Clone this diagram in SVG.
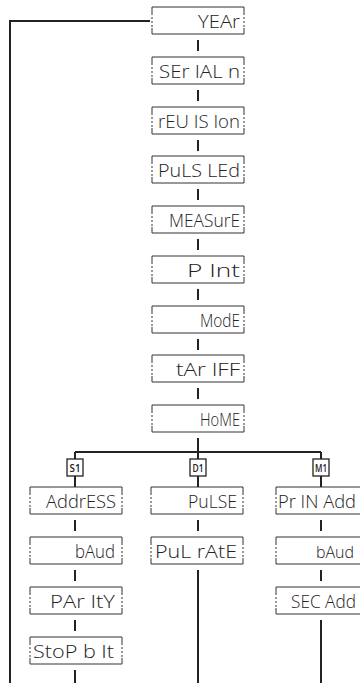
<svg xmlns="http://www.w3.org/2000/svg" width="360" height="683" viewBox="0 0 360 683">
<style>
.bx{fill:none;stroke:#333;stroke-width:1}
.sd{fill:none;stroke:#333;stroke-width:1;stroke-dasharray:2 2}
.t{font-family:"Open Sans","DejaVu Sans Condensed",sans-serif;font-weight:300;font-size:18px;fill:#222;text-anchor:end}
.c{fill:none;stroke:#222;stroke-width:2}
.ic{fill:#fff;stroke:#222;stroke-width:1.3}
.it{font-family:"Open Sans","DejaVu Sans Condensed",sans-serif;font-size:10px;font-weight:600;fill:#222;text-anchor:middle}
</style>
<defs>
<g id="box"><path class="bx" d="M0,6V0H92V6M0,21V27H92V21"/><path class="sd" d="M0,6V21M92,6V21"/></g>
</defs>
<rect width="360" height="683" fill="#fff"/>
<g id="connectors">
<path class="c" d="M150,21H10V683"/>
<path class="c" d="M198,40V51M198,90V101M198,140V151M198,189V200M198,239V250M198,289V300M198,339V350M198,388V399"/>
<path class="c" d="M198,438V452M75,452H321M75,452V459M198,452V459M321,452V459"/>
<path class="c" d="M75,476V487M198,476V487M321,476V487"/>
<path class="c" d="M75,520V531M75,570V581M75,620V631M75,670V683"/>
<path class="c" d="M198,520V531M198,570V683"/>
<path class="c" d="M321,520V531M321,570V581M321,620V683"/>
</g>
<g id="n-year"><use href="#box" x="152" y="7"/><text class="t" x="240" y="28" textLength="42" lengthAdjust="spacingAndGlyphs">YEAr</text></g>
<g id="n-serial"><use href="#box" x="152" y="57"/><text class="t" x="240" y="78" textLength="81" lengthAdjust="spacingAndGlyphs">SEr IAL n</text></g>
<g id="n-revision"><use href="#box" x="152" y="107"/><text class="t" x="240" y="128" textLength="82" lengthAdjust="spacingAndGlyphs">rEU IS Ion</text></g>
<g id="n-pulsled"><use href="#box" x="152" y="156"/><text class="t" x="240" y="177" textLength="82" lengthAdjust="spacingAndGlyphs">PuLS LEd</text></g>
<g id="n-measure"><use href="#box" x="152" y="206"/><text class="t" x="240" y="227" textLength="71" lengthAdjust="spacingAndGlyphs">MEASurE</text></g>
<g id="n-pint"><use href="#box" x="152" y="256"/><text class="t" x="240" y="277" textLength="53" lengthAdjust="spacingAndGlyphs">P Int</text></g>
<g id="n-mode"><use href="#box" x="152" y="306"/><text class="t" x="240" y="327" textLength="40" lengthAdjust="spacingAndGlyphs">ModE</text></g>
<g id="n-tariff"><use href="#box" x="152" y="355"/><text class="t" x="240" y="376" textLength="64" lengthAdjust="spacingAndGlyphs">tAr IFF</text></g>
<g id="n-home"><use href="#box" x="152" y="405"/><text class="t" x="240" y="426" textLength="40" lengthAdjust="spacingAndGlyphs">HoME</text></g>
<g id="i-s1"><rect class="ic" x="67" y="459" width="16" height="17"/><text class="it" x="75" y="471.5" textLength="11" lengthAdjust="spacingAndGlyphs">S1</text></g>
<g id="i-d1"><rect class="ic" x="190" y="459" width="16" height="17"/><text class="it" x="198" y="471.5" textLength="11" lengthAdjust="spacingAndGlyphs">D1</text></g>
<g id="i-m1"><rect class="ic" x="313" y="459" width="16" height="17"/><text class="it" x="321" y="471.5" textLength="12" lengthAdjust="spacingAndGlyphs">M1</text></g>
<g id="n-address"><use href="#box" x="30" y="487"/><text class="t" x="116" y="508" textLength="70" lengthAdjust="spacingAndGlyphs">AddrESS</text></g>
<g id="n-baud1"><use href="#box" x="30" y="537"/><text class="t" x="115" y="558" textLength="40" lengthAdjust="spacingAndGlyphs">bAud</text></g>
<g id="n-parity"><use href="#box" x="30" y="587"/><text class="t" x="115" y="608" textLength="65" lengthAdjust="spacingAndGlyphs">PAr ItY</text></g>
<g id="n-stopbit"><use href="#box" x="30" y="637"/><text class="t" x="114" y="658" textLength="81" lengthAdjust="spacingAndGlyphs">StoP b It</text></g>
<g id="n-pulse"><use href="#box" x="151" y="487"/><text class="t" x="237" y="508" textLength="49" lengthAdjust="spacingAndGlyphs">PuLSE</text></g>
<g id="n-pulrate"><use href="#box" x="151" y="537"/><text class="t" x="237" y="558" textLength="82" lengthAdjust="spacingAndGlyphs">PuL rAtE</text></g>
<g id="n-prinadd"><use href="#box" x="276" y="487"/><text class="t" x="356" y="508" textLength="78" lengthAdjust="spacingAndGlyphs">Pr IN Add</text></g>
<g id="n-baud3"><use href="#box" x="276" y="537"/><text class="t" x="354" y="558" style="font-size:16px">bAud</text></g>
<g id="n-secadd"><use href="#box" x="276" y="587"/><text class="t" x="356" y="608" textLength="65" lengthAdjust="spacingAndGlyphs">SEC Add</text></g>
</svg>
